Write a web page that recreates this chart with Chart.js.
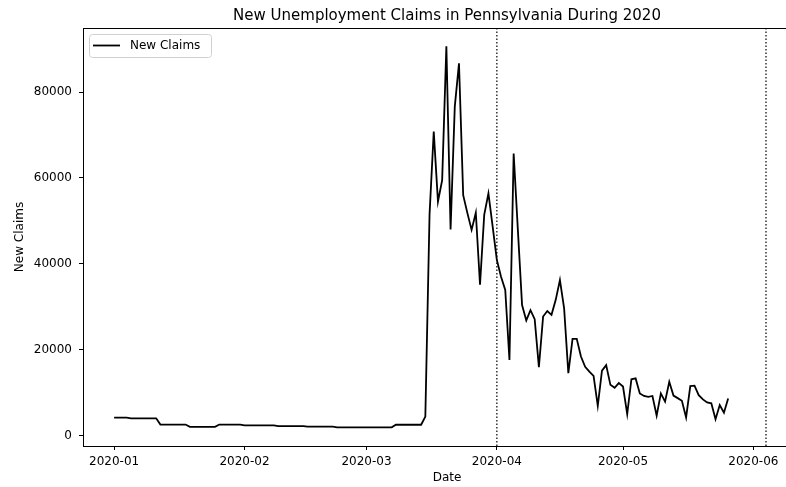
<!DOCTYPE html>
<html>
<head>
<meta charset="utf-8">
<title>New Unemployment Claims in Pennsylvania During 2020</title>
<script src="https://cdn.jsdelivr.net/npm/chart.js@4.4.1/dist/chart.umd.min.js"></script>
<style>
  html, body { margin: 0; padding: 0; background: #fff; overflow: hidden; }
  #wrap { width: 894px; height: 487px; }
</style>
</head>
<body>
<div id="wrap"><canvas id="claimsChart" width="894" height="487"></canvas></div>
<script>
// daily new claims, starting 2020-01-01
const NEW_CLAIMS = [
  4150, 4150, 4150, 4150,
  4000, 4000, 4000, 4000, 4000, 4000, 4000,
  2550, 2550, 2550, 2550, 2550, 2550, 2550,
  2000, 2000, 2000, 2000, 2000, 2000, 2000,
  2550, 2550, 2550, 2550, 2550, 2550,
  2350, 2350, 2350, 2350, 2350, 2350, 2350, 2350,
  2200, 2200, 2200, 2200, 2200, 2200, 2200,
  2050, 2050, 2050, 2050, 2050, 2050, 2050,
  1900, 1900, 1900, 1900, 1900, 1900, 1900, 1900, 1900, 1900, 1900, 1900, 1900, 1900,
  2500, 2500, 2500, 2500, 2500, 2500, 2500,
  4400, 51500, 70800, 54500, 59500, 90700, 48000, 76600, 86700, 56000,
  51800, 47900, 51900, 35100, 51400, 56400, 48700, 40900, 37000, 33900,
  17600, 65700, 47900, 30400, 26800, 29200, 27100, 15900, 27700, 29000,
  28100, 31600, 36200, 29600, 14500, 22500, 22500, 18400, 16000, 14900,
  13900, 6900, 15100, 16400, 11800, 11100, 12200, 11400, 5000, 13100,
  13300, 9800, 9200, 9000, 9200, 4600, 9800, 7900, 12500, 9300,
  8700, 8100, 4200, 11500, 11600, 9400, 8400, 7700, 7500, 3800,
  7100, 5300, 8600
];

// month ticks, as days since 2020-01-01
const TICK_DAYS = [0, 31, 60, 91, 121, 152];
const TICK_LABELS = ['2020-01', '2020-02', '2020-03', '2020-04', '2020-05', '2020-06'];
const Y_TICKS = [0, 20000, 40000, 60000, 80000];

// dotted markers: 2020-04-01 and 2020-06-04
const VLINE_DAYS = [91, 155];

const X_MIN = -7.4, X_MAX = 165.7;
const Y_MIN = -2450, Y_MAX = 94930;

const FONT = 'DejaVu Sans';
const TITLE = 'New Unemployment Claims in Pennsylvania During 2020';

const claimPoints = NEW_CLAIMS.map((v, i) => ({ x: i, y: v }));

const vlineSets = VLINE_DAYS.map(d => ({
  label: 'marker',
  data: [{ x: d, y: Y_MIN }, { x: d, y: Y_MAX }],
  borderColor: '#333',
  borderWidth: 1.5,
  borderDash: [1.5, 2],
  pointRadius: 0,
  fill: false
}));

// frame around the plot + title centred over the axes
const framePlugin = {
  id: 'frame',
  afterDraw(chart) {
    const { ctx, chartArea: a } = chart;
    ctx.save();
    ctx.strokeStyle = '#000';
    ctx.lineWidth = 1;
    ctx.strokeRect(a.left + 0.5, a.top + 0.5, a.right - a.left, a.bottom - a.top);
    ctx.fillStyle = '#000';
    ctx.font = '15px "' + FONT + '"';
    ctx.textAlign = 'center';
    ctx.textBaseline = 'middle';
    ctx.fillText(TITLE, (a.left + a.right) / 2, 16);
    ctx.restore();
  }
};

// legend box in the upper-left corner of the plot
const cornerLegend = {
  id: 'cornerLegend',
  afterDraw(chart) {
    const { ctx, chartArea: a } = chart;
    const x = a.left + 6, y = a.top + 6, w = 122, h = 23;
    ctx.save();
    ctx.fillStyle = 'rgba(255,255,255,0.8)';
    ctx.strokeStyle = '#d0d0d0';
    ctx.lineWidth = 1;
    ctx.beginPath();
    ctx.roundRect(x + 0.5, y + 0.5, w, h, 3);
    ctx.fill();
    ctx.stroke();
    ctx.strokeStyle = '#000';
    ctx.lineWidth = 1.8;
    ctx.beginPath();
    ctx.moveTo(x + 4, y + 11.5);
    ctx.lineTo(x + 31, y + 11.5);
    ctx.stroke();
    ctx.fillStyle = '#000';
    ctx.font = '12px "' + FONT + '"';
    ctx.textBaseline = 'middle';
    ctx.fillText(chart.data.datasets[0].label, x + 41, y + 12);
    ctx.restore();
  }
};

new Chart(document.getElementById('claimsChart'), {
  type: 'line',
  data: {
    datasets: [{
      label: 'New Claims',
      data: claimPoints,
      borderColor: '#000',
      borderWidth: 1.8,
      pointRadius: 0,
      tension: 0,
      fill: false
    }, ...vlineSets]
  },
  options: {
    responsive: false,
    animation: false,
    devicePixelRatio: 1,
    layout: { padding: { left: 0, right: 83, top: 28, bottom: 0 } },
    plugins: {
      legend: { display: false },
      tooltip: { enabled: false },
      title: { display: false }
    },
    scales: {
      x: {
        type: 'linear',
        min: X_MIN,
        max: X_MAX,
        afterBuildTicks: s => { s.ticks = TICK_DAYS.map(v => ({ value: v })); },
        afterFit: s => { s.height = 41; },
        ticks: {
          color: '#000',
          font: { family: FONT, size: 12 },
          padding: 5,
          maxRotation: 0,
          autoSkip: false,
          callback: (v, i) => TICK_LABELS[i]
        },
        grid: { drawOnChartArea: false, drawTicks: true, tickLength: 4, color: '#000' },
        border: { display: true, color: '#000' },
        title: {
          display: true,
          text: 'Date',
          color: '#000',
          font: { family: FONT, size: 12 },
          padding: { top: 0, bottom: 2 }
        }
      },
      y: {
        min: Y_MIN,
        max: Y_MAX,
        afterBuildTicks: s => { s.ticks = Y_TICKS.map(v => ({ value: v })); },
        afterFit: s => { s.width = 83; },
        ticks: {
          color: '#000',
          font: { family: FONT, size: 12 },
          padding: 7,
          callback: v => String(v)
        },
        grid: { drawOnChartArea: false, drawTicks: true, tickLength: 4, color: '#000' },
        border: { display: true, color: '#000' },
        title: {
          display: true,
          text: 'New Claims',
          color: '#000',
          font: { family: FONT, size: 12 },
          padding: { top: 13, bottom: 0 }
        }
      }
    }
  },
  plugins: [framePlugin, cornerLegend]
});
</script>
</body>
</html>
